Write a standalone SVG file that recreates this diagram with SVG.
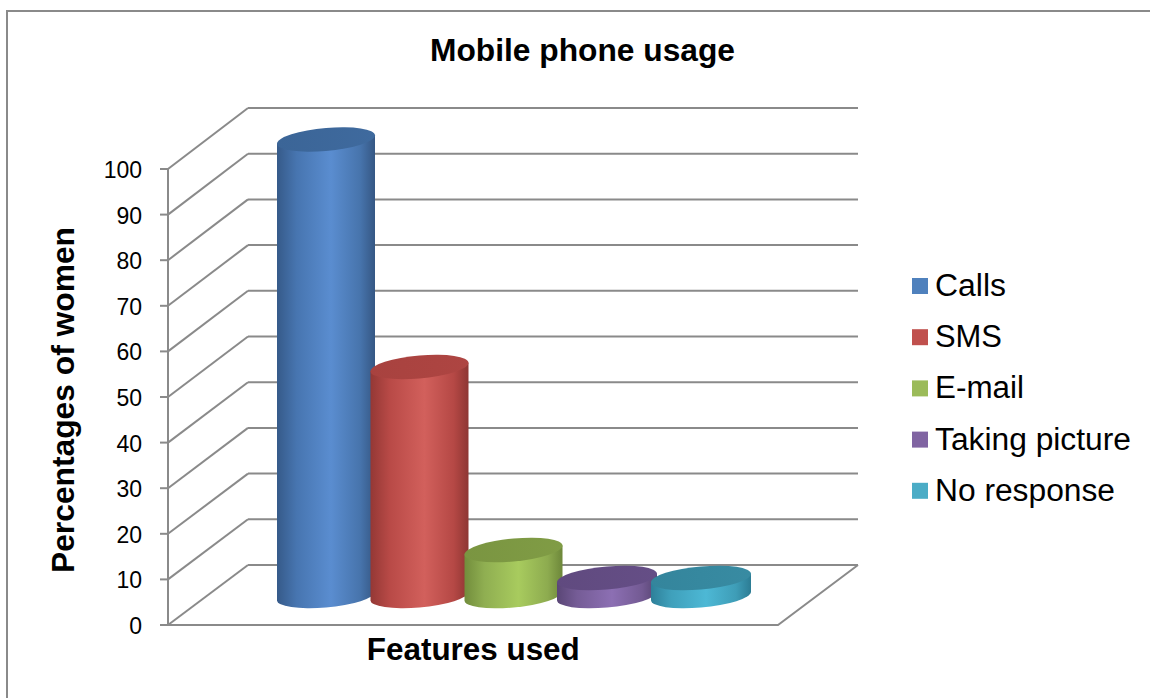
<svg xmlns="http://www.w3.org/2000/svg" width="1150" height="698" viewBox="0 0 1150 698">
<defs>
<style>
.grid{stroke:#8A8A8A;stroke-width:2;fill:none}
.lbl{font-family:"Liberation Sans",Arial,sans-serif;font-size:23px;fill:#000;text-anchor:end}
.btitle{font-family:"Liberation Sans",Arial,sans-serif;font-size:31px;font-weight:bold;fill:#000;text-anchor:middle}
.leg{font-family:"Liberation Sans",Arial,sans-serif;font-size:31px;fill:#000}
</style>
<linearGradient id="gBlue" x1="0" y1="0" x2="1" y2="0">
<stop offset="0" stop-color="#365A89"/><stop offset="0.2" stop-color="#4775B0"/><stop offset="0.55" stop-color="#5A8DD0"/><stop offset="0.85" stop-color="#4774AC"/><stop offset="1" stop-color="#355784"/>
</linearGradient>
<linearGradient id="gRed" x1="0" y1="0" x2="1" y2="0">
<stop offset="0" stop-color="#943835"/><stop offset="0.2" stop-color="#B94A47"/><stop offset="0.55" stop-color="#D2605C"/><stop offset="0.85" stop-color="#B54845"/><stop offset="1" stop-color="#8E3633"/>
</linearGradient>
<linearGradient id="gGreen" x1="0" y1="0" x2="1" y2="0">
<stop offset="0" stop-color="#728D3C"/><stop offset="0.2" stop-color="#8FAE51"/><stop offset="0.55" stop-color="#A8CB5E"/><stop offset="0.85" stop-color="#8DAB4F"/><stop offset="1" stop-color="#6D873A"/>
</linearGradient>
<linearGradient id="gPurple" x1="0" y1="0" x2="1" y2="0">
<stop offset="0" stop-color="#5A4676"/><stop offset="0.2" stop-color="#755C96"/><stop offset="0.55" stop-color="#8C6FB3"/><stop offset="0.85" stop-color="#735A93"/><stop offset="1" stop-color="#574472"/>
</linearGradient>
<linearGradient id="gTeal" x1="0" y1="0" x2="1" y2="0">
<stop offset="0" stop-color="#2E8099"/><stop offset="0.2" stop-color="#3FA0BB"/><stop offset="0.55" stop-color="#4DB8D5"/><stop offset="0.85" stop-color="#3E9DB7"/><stop offset="1" stop-color="#2C7C94"/>
</linearGradient>
<linearGradient id="tBlue" x1="0" y1="0" x2="1" y2="0"><stop offset="0" stop-color="#3B6597"/><stop offset="1" stop-color="#3F6A9E"/></linearGradient>
<linearGradient id="tRed" x1="0" y1="0" x2="1" y2="0"><stop offset="0" stop-color="#A8423F"/><stop offset="1" stop-color="#AE4542"/></linearGradient>
<linearGradient id="tGreen" x1="0" y1="0" x2="1" y2="0"><stop offset="0" stop-color="#7A9541"/><stop offset="1" stop-color="#809C45"/></linearGradient>
<linearGradient id="tPurple" x1="0" y1="0" x2="1" y2="0"><stop offset="0" stop-color="#604A7F"/><stop offset="1" stop-color="#654E86"/></linearGradient>
<linearGradient id="tTeal" x1="0" y1="0" x2="1" y2="0"><stop offset="0" stop-color="#34859C"/><stop offset="1" stop-color="#388BA2"/></linearGradient>
</defs>
<rect x="0" y="0" width="1150" height="698" fill="#FFFFFF"/>
<rect x="7" y="11" width="1160" height="700" fill="none" stroke="#8A8A8A" stroke-width="2"/>
<text class="btitle" x="582.5" y="61" textLength="305" lengthAdjust="spacingAndGlyphs">Mobile phone usage</text>
<g id="connectors">
<g id="back-gridlines">
<line class="grid" x1="248" y1="108" x2="858" y2="108"/>
<line class="grid" x1="248" y1="153.7" x2="858" y2="153.7"/>
<line class="grid" x1="248" y1="199.4" x2="858" y2="199.4"/>
<line class="grid" x1="248" y1="245.1" x2="858" y2="245.1"/>
<line class="grid" x1="248" y1="290.8" x2="858" y2="290.8"/>
<line class="grid" x1="248" y1="336.5" x2="858" y2="336.5"/>
<line class="grid" x1="248" y1="382.2" x2="858" y2="382.2"/>
<line class="grid" x1="248" y1="427.9" x2="858" y2="427.9"/>
<line class="grid" x1="248" y1="473.6" x2="858" y2="473.6"/>
<line class="grid" x1="248" y1="519.3" x2="858" y2="519.3"/>
<line class="grid" x1="248" y1="565" x2="858" y2="565"/>
</g>
<g id="side-gridlines">
<line class="grid" x1="168" y1="169" x2="248" y2="108"/>
<line class="grid" x1="168" y1="214.6" x2="248" y2="153.7"/>
<line class="grid" x1="168" y1="260.2" x2="248" y2="199.4"/>
<line class="grid" x1="168" y1="305.8" x2="248" y2="245.1"/>
<line class="grid" x1="168" y1="351.4" x2="248" y2="290.8"/>
<line class="grid" x1="168" y1="397" x2="248" y2="336.5"/>
<line class="grid" x1="168" y1="442.6" x2="248" y2="382.2"/>
<line class="grid" x1="168" y1="488.2" x2="248" y2="427.9"/>
<line class="grid" x1="168" y1="533.8" x2="248" y2="473.6"/>
<line class="grid" x1="168" y1="579.4" x2="248" y2="519.3"/>
<line class="grid" x1="168" y1="625" x2="248" y2="565"/>
</g>
<g id="floor">
<polyline class="grid" points="168,625 778,625 858,565"/>
</g>
<g id="axis">
<line class="grid" x1="168" y1="169" x2="168" y2="626"/>
<line class="grid" x1="160" y1="169" x2="168" y2="169"/>
<line class="grid" x1="160" y1="214.6" x2="168" y2="214.6"/>
<line class="grid" x1="160" y1="260.2" x2="168" y2="260.2"/>
<line class="grid" x1="160" y1="305.8" x2="168" y2="305.8"/>
<line class="grid" x1="160" y1="351.4" x2="168" y2="351.4"/>
<line class="grid" x1="160" y1="397" x2="168" y2="397"/>
<line class="grid" x1="160" y1="442.6" x2="168" y2="442.6"/>
<line class="grid" x1="160" y1="488.2" x2="168" y2="488.2"/>
<line class="grid" x1="160" y1="533.8" x2="168" y2="533.8"/>
<line class="grid" x1="160" y1="579.4" x2="168" y2="579.4"/>
<line class="grid" x1="160" y1="625" x2="168" y2="625"/>
</g>
</g>
<g id="axis-labels">
<text class="lbl" x="142" y="178">100</text>
<text class="lbl" x="142" y="223.6">90</text>
<text class="lbl" x="142" y="269.2">80</text>
<text class="lbl" x="142" y="314.8">70</text>
<text class="lbl" x="142" y="360.4">60</text>
<text class="lbl" x="142" y="406">50</text>
<text class="lbl" x="142" y="451.6">40</text>
<text class="lbl" x="142" y="497.2">30</text>
<text class="lbl" x="142" y="542.8">20</text>
<text class="lbl" x="142" y="588.4">10</text>
<text class="lbl" x="142" y="634">0</text>
</g>
<g id="bar-calls" transform="matrix(1,-0.085,0,1,326,596)">
<path d="M -49 -456.5 L -49 0 A 49 11.5 0 0 0 49 0 L 49 -456.5 Z" fill="url(#gBlue)"/>
<ellipse cx="0" cy="-456.5" rx="49" ry="11.5" fill="url(#tBlue)"/>
</g>
<g id="bar-sms" transform="matrix(1,-0.085,0,1,419.5,596)">
<path d="M -49 -229 L -49 0 A 49 11.5 0 0 0 49 0 L 49 -229 Z" fill="url(#gRed)"/>
<ellipse cx="0" cy="-229" rx="49" ry="11.5" fill="url(#tRed)"/>
</g>
<g id="bar-email" transform="matrix(1,-0.09,0,1,513.5,596)">
<path d="M -49 -46 L -49 0 A 49 11.5 0 0 0 49 0 L 49 -46 Z" fill="url(#gGreen)"/>
<ellipse cx="0" cy="-46" rx="49" ry="11.5" fill="url(#tGreen)"/>
</g>
<g id="bar-taking-picture" transform="matrix(1,-0.085,0,1,607,596)">
<path d="M -50 -18 L -50 0 A 50 11.5 0 0 0 50 0 L 50 -18 Z" fill="url(#gPurple)"/>
<ellipse cx="0" cy="-18" rx="50" ry="11.5" fill="url(#tPurple)"/>
</g>
<g id="bar-no-response" transform="matrix(1,-0.085,0,1,701,596)">
<path d="M -50 -18 L -50 0 A 50 11.5 0 0 0 50 0 L 50 -18 Z" fill="url(#gTeal)"/>
<ellipse cx="0" cy="-18" rx="50" ry="11.5" fill="url(#tTeal)"/>
</g>
<text class="btitle" x="473.3" y="660" textLength="213" lengthAdjust="spacingAndGlyphs">Features used</text>
<text class="btitle" transform="translate(73.5,400) rotate(-90)" x="0" y="0" textLength="346" lengthAdjust="spacingAndGlyphs">Percentages of women</text>
<g id="legend">
<g id="legend-calls"><rect x="912" y="278" width="16" height="16" fill="#4F81BD"/><text class="leg" x="935" y="296" textLength="71" lengthAdjust="spacingAndGlyphs">Calls</text></g>
<g id="legend-sms"><rect x="912" y="329.2" width="16" height="16" fill="#C0504D"/><text class="leg" x="935" y="347.2" textLength="67" lengthAdjust="spacingAndGlyphs">SMS</text></g>
<g id="legend-email"><rect x="912" y="380.4" width="16" height="16" fill="#9BBB59"/><text class="leg" x="935" y="398.4" textLength="89" lengthAdjust="spacingAndGlyphs">E-mail</text></g>
<g id="legend-taking-picture"><rect x="912" y="431.6" width="16" height="16" fill="#8064A2"/><text class="leg" x="935" y="449.6" textLength="196" lengthAdjust="spacingAndGlyphs">Taking picture</text></g>
<g id="legend-no-response"><rect x="912" y="482.8" width="16" height="16" fill="#4BACC6"/><text class="leg" x="935" y="500.8" textLength="180" lengthAdjust="spacingAndGlyphs">No response</text></g>
</g>
</svg>
